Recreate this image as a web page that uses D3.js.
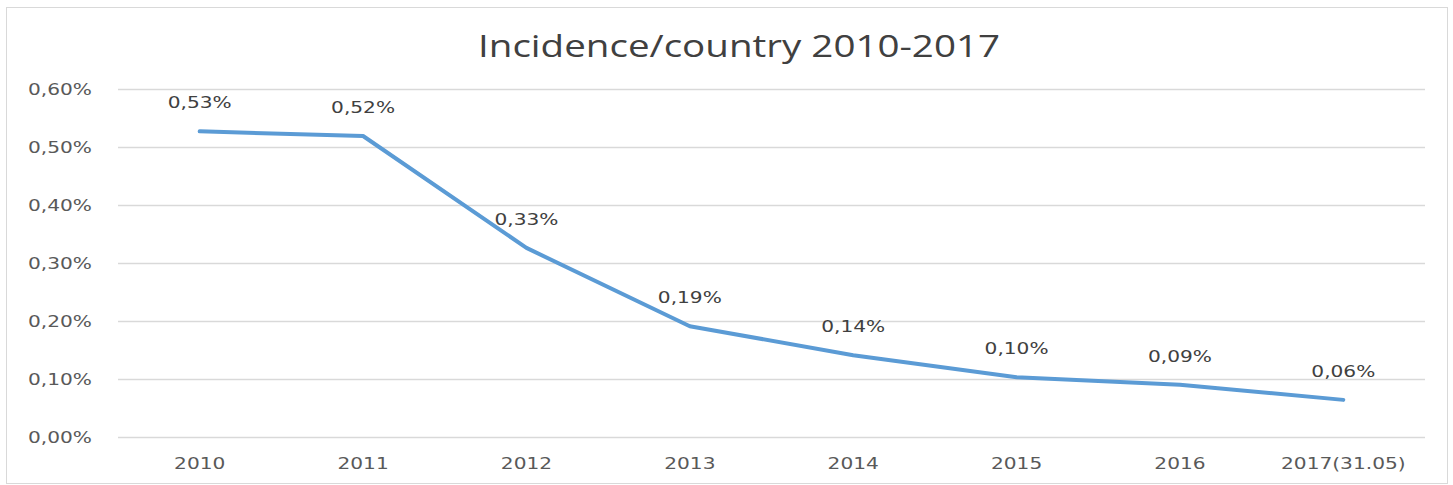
<!DOCTYPE html>
<html><head><meta charset="utf-8">
<script src="https://cdn.jsdelivr.net/npm/d3@7"></script>
<style>
html,body{margin:0;padding:0;background:#fff;}
svg{display:block;font-family:"DejaVu Sans",sans-serif;}
</style></head>
<body>
<svg id="chart" width="1453" height="485"></svg>
<script>
const categories = ["2010","2011","2012","2013","2014","2015","2016","2017(31.05)"];
const values = [0.527, 0.519, 0.326, 0.191, 0.141, 0.103, 0.090, 0.064];
const valueLabels = ["0,53%","0,52%","0,33%","0,19%","0,14%","0,10%","0,09%","0,06%"];
const yTicks = [0, 0.1, 0.2, 0.3, 0.4, 0.5, 0.6];
const title = "Incidence/country 2010-2017";

const svg = d3.select("#chart");
const W = 1453, H = 485;
const m = {left: 118, right: 28, top: 89, bottom: 48};

function stretch(sel, f) {
  sel.each(function() {
    const L = this.getComputedTextLength();
    d3.select(this).attr("textLength", L * f).attr("lengthAdjust", "spacingAndGlyphs");
  });
}

svg.append("rect").attr("x",6.5).attr("y",7.5).attr("width",1441).attr("height",476)
  .attr("fill","#fff").attr("stroke","#d9d9d9").attr("stroke-width",1);

const x = d3.scaleBand().domain(categories).range([m.left, W - m.right]);
const y = d3.scaleLinear().domain([0, 0.6]).range([H - m.bottom, m.top]);

const fmt = d => d.toFixed(2).replace(".", ",") + "%";

// gridlines
svg.append("g").selectAll("line").data(yTicks).join("line")
  .attr("x1", m.left).attr("x2", W - m.right)
  .attr("y1", d => Math.round(y(d)) + 0.5).attr("y2", d => Math.round(y(d)) + 0.5)
  .attr("stroke", "#d9d9d9").attr("stroke-width", 1.3);

const FS = 16.5, SF = 1.22;

// y axis labels
const yAxis = d3.axisLeft(y).tickValues(yTicks).tickFormat(fmt).tickSize(0).tickPadding(0);
const gy = svg.append("g").attr("transform", `translate(92,0)`).call(yAxis);
gy.select(".domain").remove();
gy.selectAll("text").attr("font-size", FS).attr("fill", "#595959")
  .attr("font-family", '"DejaVu Sans",sans-serif').attr("dy","0.36em").call(stretch, SF);

// x axis labels
const xAxis = d3.axisBottom(x).tickSize(0).tickPadding(0);
const gx = svg.append("g").attr("transform", `translate(0,${H - m.bottom + 26})`).call(xAxis);
gx.select(".domain").remove();
gx.selectAll("text").attr("font-size", FS).attr("fill", "#595959")
  .attr("font-family", '"DejaVu Sans",sans-serif').attr("dy","0.36em").call(stretch, SF);

// line
const line = d3.line().x((d,i) => x(categories[i]) + x.bandwidth()/2).y(d => y(d));
svg.append("path").datum(values).attr("d", line)
  .attr("fill","none").attr("stroke","#5b9bd5").attr("stroke-width",4)
  .attr("stroke-linejoin","round").attr("stroke-linecap","round");

// data labels
svg.append("g").selectAll("text").data(values).join("text")
  .attr("x", (d,i) => x(categories[i]) + x.bandwidth()/2)
  .attr("y", d => y(d) - 29)
  .attr("dy","0.36em")
  .attr("text-anchor","middle")
  .attr("font-size", FS).attr("fill","#404040")
  .text((d,i) => valueLabels[i]).call(stretch, SF);

// title
const t = svg.append("text").attr("x", 739).attr("y", 46).attr("dy","0.35em")
  .attr("text-anchor","middle").attr("font-size", 31).attr("fill","#404040")
  .attr("font-family", '"Open Sans",sans-serif')
  .text(title);
t.attr("textLength", 522).attr("lengthAdjust","spacingAndGlyphs");
</script>
</body></html>
